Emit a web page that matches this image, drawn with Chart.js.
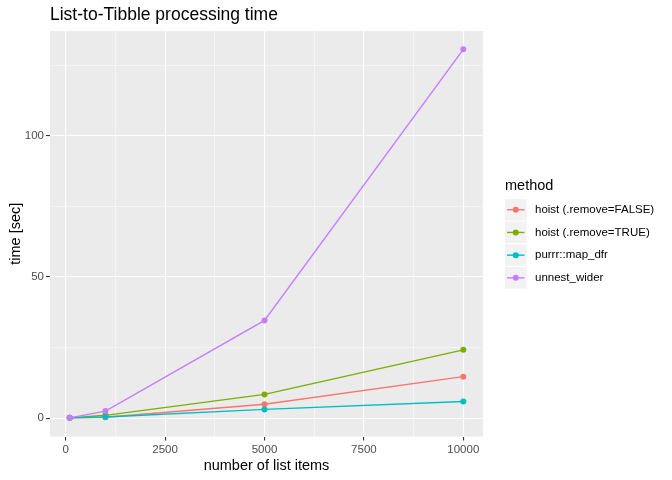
<!doctype html>
<html lang="en">
<head>
<meta charset="utf-8" />
<title>List-to-Tibble processing time</title>
<script src="https://cdn.jsdelivr.net/npm/chart.js@4"></script>
<style>
  html, body { margin: 0; padding: 0; background: #fff; }
  #wrap { width: 672px; height: 480px; }
</style>
</head>
<body>
<div id="wrap"><canvas id="myChart"></canvas></div>
<script>
// dati
const listItems = [100, 1000, 5000, 10000];
const methods = ['hoist (.remove=FALSE)', 'hoist (.remove=TRUE)', 'purrr::map_dfr', 'unnest_wider'];
const hoistFalse = [0.1, 0.3, 4.9, 14.7];
const hoistTrue = [0.1, 1.0, 8.4, 24.2];
const mapDfr = [0.1, 0.4, 3.1, 5.9];
const unnestWider = [0.1, 2.5, 34.6, 130.6];
const colors = ['#F8766D', '#7CAE00', '#00BFC4', '#C77CFF'];
const xTicks = [0, 1250, 2500, 3750, 5000, 6250, 7500, 8750, 10000];
const xLabels = ['0', '2500', '5000', '7500', '10000'];
const yTicks = [0, 25, 50, 75, 100, 125];
const yLabels = ['0', '50', '100'];

const FONT = 'Liberation Sans, Arial, Helvetica, sans-serif';
const TITLE = 'List-to-Tibble processing time';
const series = [hoistFalse, hoistTrue, mapDfr, unnestWider];

function isMajor(v, labels) {
    return labels.indexOf(String(v)) >= 0;
}

// sfondo grigio del pannello stile ggplot + titolo allineato al pannello
const panelBg = {
    id: 'panelBg',
    beforeDraw(chart) {
        const a = chart.chartArea, ctx = chart.ctx;
        ctx.save();
        ctx.fillStyle = '#EBEBEB';
        ctx.fillRect(a.left, a.top, a.right - a.left, a.bottom - a.top);
        ctx.fillStyle = '#000';
        ctx.font = '17.5px ' + FONT;
        ctx.textAlign = 'left';
        ctx.textBaseline = 'alphabetic';
        ctx.fillText(TITLE, a.left, 20);
        ctx.restore();
    }
};

// legenda a destra con i riquadri grigi
const ggLegend = {
    id: 'ggLegend',
    afterDraw(chart) {
        const ctx = chart.ctx;
        const x0 = 505, y0 = 199, box = 21.5, pitch = 22.7;
        ctx.save();
        ctx.fillStyle = '#000';
        ctx.font = '14.5px ' + FONT;
        ctx.textBaseline = 'alphabetic';
        ctx.textAlign = 'left';
        ctx.fillText('method', x0, 190);
        methods.forEach((m, i) => {
            const y = y0 + i * pitch;
            ctx.fillStyle = '#F2F2F2';
            ctx.fillRect(x0, y, box, box);
            const cy = y + box / 2;
            ctx.strokeStyle = colors[i];
            ctx.lineWidth = 1.4;
            ctx.beginPath();
            ctx.moveTo(x0 + 2, cy);
            ctx.lineTo(x0 + box - 2, cy);
            ctx.stroke();
            ctx.fillStyle = colors[i];
            ctx.beginPath();
            ctx.arc(x0 + box / 2, cy, 3, 0, Math.PI * 2);
            ctx.fill();
            ctx.fillStyle = '#000';
            ctx.font = '11.5px ' + FONT;
            ctx.textBaseline = 'middle';
            ctx.fillText(m, 535, cy);
        });
        ctx.restore();
    }
};

const mychart = new Chart(document.getElementById('myChart'), {
    type: 'line',
    data: {
        datasets: methods.map((m, i) => ({
            label: m,
            data: listItems.map((x, j) => ({x: x, y: series[i][j]})),
            borderColor: colors[i],
            backgroundColor: colors[i],
            borderWidth: 1.4,
            pointRadius: 3,
            pointHoverRadius: 3,
            pointBorderWidth: 0,
            order: methods.length - i
        }))
    },
    options: {
        responsive: true,
        maintainAspectRatio: false,
        animation: false,
        layout: {
            padding: {left: 0, right: 189, top: 31, bottom: 0}
        },
        scales: {
            x: {
                type: 'linear',
                min: -395,
                max: 10495,
                afterBuildTicks: s => { s.ticks = xTicks.map(v => ({value: v})); },
                afterFit: s => { s.height = 43.5; },
                border: {display: false},
                grid: {
                    color: '#FFFFFF',
                    lineWidth: c => isMajor(c.tick.value, xLabels) ? 1.1 : 0.5,
                    tickColor: c => isMajor(c.tick.value, xLabels) ? '#333333' : 'rgba(0,0,0,0)',
                    tickLength: 4
                },
                ticks: {
                    autoSkip: false,
                    maxRotation: 0,
                    padding: 2,
                    color: '#4D4D4D',
                    font: {family: FONT, size: 11.5},
                    callback: v => isMajor(v, xLabels) ? String(v) : ''
                },
                title: {
                    display: true,
                    text: 'number of list items',
                    color: '#000',
                    font: {family: FONT, size: 14.5},
                    padding: {top: 2, bottom: 5}
                }
            },
            y: {
                type: 'linear',
                min: -6.5,
                max: 137.1,
                afterBuildTicks: s => { s.ticks = yTicks.map(v => ({value: v})); },
                afterFit: s => { s.width = 50; },
                border: {display: false},
                grid: {
                    color: '#FFFFFF',
                    lineWidth: c => isMajor(c.tick.value, yLabels) ? 1.1 : 0.5,
                    tickColor: c => isMajor(c.tick.value, yLabels) ? '#333333' : 'rgba(0,0,0,0)',
                    tickLength: 4
                },
                ticks: {
                    autoSkip: false,
                    padding: 2,
                    color: '#4D4D4D',
                    font: {family: FONT, size: 11.5},
                    callback: v => isMajor(v, yLabels) ? String(v) : ''
                },
                title: {
                    display: true,
                    text: 'time [sec]',
                    color: '#000',
                    font: {family: FONT, size: 14.5},
                    padding: {top: 7, bottom: 0}
                }
            }
        },
        plugins: {
            legend: {display: false},
            tooltip: {enabled: false},
            title: {display: false}
        }
    },
    plugins: [panelBg, ggLegend]
});
</script>
</body>
</html>
